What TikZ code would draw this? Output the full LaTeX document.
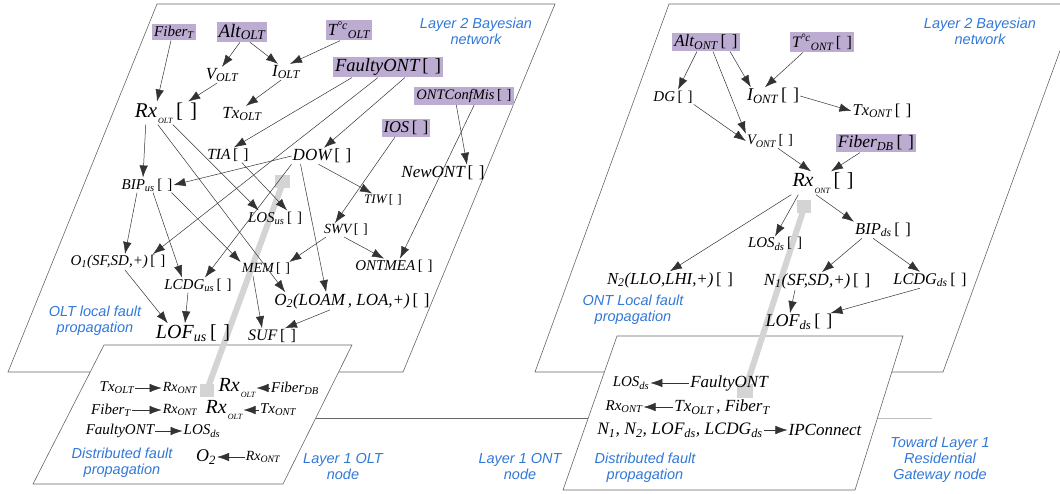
\documentclass[tikz,border=0pt]{standalone}
\usepackage{fontspec}
\setmainfont{Liberation Serif}
\setsansfont{Liberation Sans}
\usetikzlibrary{arrows.meta}
\definecolor{boxc}{RGB}{188,172,210}
\definecolor{bluec}{RGB}{50,120,215}
\definecolor{shaftc}{RGB}{212,212,212}
\newcommand\sub[1]{\textsubscript{#1}}
\newcommand\br{\,{\upshape[\,\,]}}
\newcommand\lowsub[3]{\kern#1\raisebox{-#2}{\fontsize{8}{8}\selectfont #3}}
\tikzset{
  lab/.style={inner sep=1pt},
  fsz/.style={font=\itshape\fontsize{#1}{#1}\selectfont},
  box/.style={lab, fill=boxc, inner sep=2pt},
  bl/.style={font=\sffamily\itshape\fontsize{14.5}{16}\selectfont, text=bluec, align=center},
  edge/.style={draw=black!80, line width=0.5pt, -{Latex[length=12pt,width=8.5pt]}},
  frame/.style={draw=black!60, line width=0.6pt},
  shaft/.style={draw=shaftc, line width=6pt},
}
\begin{document}
\begin{tikzpicture}[x=1pt,y=-1pt]
\useasboundingbox (0,0) rectangle (1060,493);
% frames
\draw[frame] (8,372) -- (403,372) -- (555,4) -- (157,4) -- cycle;
\draw[frame] (535,372) -- (943,372) -- (1077,4) -- (669,4) -- cycle;
\draw[frame] (315,418) -- (588,418);
\draw[draw=black!25, line width=0.6pt] (873,418) -- (932,418);
\filldraw[frame, fill=white] (33,484) -- (283,484) -- (352,345) -- (104,345) -- cycle;
\filldraw[frame, fill=white] (563,490) -- (855,490) -- (903,336) -- (617,336) -- cycle;
% gray shafts
\draw[shaft] (207,390) -- (282,185);
\fill[shaftc] (200,384) rectangle (214,397);
\fill[shaftc] (275,175) rectangle (290,188);
\draw[shaft] (745,390) -- (804,208);
\fill[shaftc] (737,384) rectangle (753,398);
\fill[shaftc] (797,200) rectangle (811,213);

% ---------- OLT layer 2 ----------
\node[box,fsz=15] (fibT) at (174,32) {Fiber\sub{T}};
\node[box,fsz=19] (altO) at (242,32) {Alt\sub{OLT}};
\node[box,fsz=17] (tcO) at (349,30) {T\textsuperscript{°c}\sub{OLT}};
\node[lab,fsz=17] (vO) at (222,75) {V\sub{OLT}};
\node[lab,fsz=17] (iO) at (286,72) {I\sub{OLT}};
\node[box,fsz=18.5] (fONT) at (388,67) {FaultyONT\br};
\node[lab,fsz=21] (rxO) at (166,113) {Rx\lowsub{1pt}{6pt}{OLT}\br};
\node[lab,fsz=17] (txO) at (242,114) {Tx\sub{OLT}};
\node[box,fsz=14.5] (ocm) at (464,96) {ONTConfMis\br};
\node[box,fsz=16.5] (ios) at (406,128) {IOS\br};
\node[lab,fsz=15.5] (tia) at (228,155) {TIA\br};
\node[lab,fsz=17] (dow) at (322,156) {DOW\br};
\node[lab,fsz=17] (newo) at (443,173) {NewONT\br};
\node[lab,fsz=15] (bipu) at (147,185) {BIP\sub{us}\br};
\node[lab,fsz=13] (tiw) at (383,200) {TIW\br};
\node[lab,fsz=15] (losu) at (275,218) {LOS\sub{us}\br};
\node[lab,fsz=14] (swv) at (346,230) {SWV\br};
\node[lab,fsz=15] (o1) at (118,262) {O\sub{1}(SF,SD,+)\br};
\node[lab,fsz=14] (mem) at (266,269) {MEM\br};
\node[lab,fsz=15] (ontmea) at (394,266) {ONTMEA\br};
\node[lab,fsz=15] (lcdgu) at (198,285) {LCDG\sub{us}\br};
\node[lab,fsz=17] (o2) at (352,301) {O\sub{2}(LOAM\,, LOA,+)\br};
\node[lab,fsz=20] (lofu) at (193,333) {LOF\sub{us}\br};
\node[lab,fsz=16] (suf) at (272,336) {SUF\br};

\draw[edge] ([xshift=-3pt]fibT.south) -- ([xshift=-9pt]rxO.north);
\draw[edge] ([xshift=-2pt]altO.south) -- (vO.north);
\draw[edge] ([xshift=8pt]altO.south) -- ([xshift=-8pt]iO.north);
\draw[edge] ([xshift=-9pt]tcO.south) -- ([xshift=4pt]iO.north);
\draw[edge] ([xshift=-5pt]vO.south) -- ([xshift=-10pt]rxO.north east);
\draw[edge] ([xshift=-5pt]iO.south) -- ([xshift=4pt]txO.north);
\draw[edge] ([xshift=19pt]fONT.south west) -- ([xshift=6pt]tia.north);
\draw[edge] ([xshift=45pt]fONT.south west) -- ([xshift=35pt]o1.north);
\draw[edge] ([xshift=72pt]fONT.south west) -- ([xshift=2pt]dow.north);
\draw[edge] ([xshift=42pt]ocm.south west) -- ([xshift=24pt]newo.north);
\draw[edge] ([xshift=60pt]ocm.south west) -- ([xshift=6pt]ontmea.north);
\draw[edge] ([xshift=-11pt]ios.south) -- ([xshift=-11pt]swv.north);
\draw[edge] ([xshift=12pt]rxO.south west) -- ([xshift=-4pt]bipu.north);
\draw[edge] ([xshift=39pt]rxO.south west) -- ([xshift=12pt]losu.north west);
\draw[edge] ([xshift=24pt]rxO.south west) -- ([xshift=12pt]o2.north west);
\draw[edge] ([xshift=-8pt]tia.south east) -- ([xshift=-16pt]losu.north east);
\draw[edge] (dow.west) -- (bipu.east);
\draw[edge] (dow.south west) -- ([xshift=7pt]lcdgu.north);
\draw[edge] ([xshift=9pt]dow.south west) -- ([xshift=53pt]o2.north west);
\draw[edge] ([xshift=27pt]dow.south west) -- ([xshift=9pt]tiw.north west);
\draw[edge] ([xshift=-10pt]bipu.south) -- ([xshift=7pt]o1.north);
\draw[edge] ([xshift=6pt]bipu.south) -- ([xshift=-16pt]lcdgu.north);
\draw[edge] ([xshift=-2pt]bipu.south east) -- (mem.north west);
\draw[edge] ([xshift=3pt]swv.south west) -- ([xshift=-2pt]mem.north east);
\draw[edge] ([xshift=-2pt]swv.south) -- ([xshift=30pt]ontmea.north west);
\draw[edge] ([xshift=-13pt]mem.south) -- ([xshift=-10pt]suf.north);
\draw[edge] ([xshift=-22pt]o2.south) -- ([xshift=13pt]suf.north);
\draw[edge] ([xshift=7pt]o1.south) -- ([xshift=13pt]lofu.north west);
\draw[edge] ([xshift=-10pt]lcdgu.south) -- ([xshift=-8pt]lofu.north);

% ---------- ONT layer 2 ----------
\node[box,fsz=17] (altN) at (706,42) {Alt\sub{ONT}\br};
\node[box,fsz=16] (tcN) at (822,42) {T\textsuperscript{°c}\sub{ONT}\br};
\node[lab,fsz=15] (dg) at (673,97) {DG\br};
\node[lab,fsz=18] (iN) at (773,96) {I\sub{ONT}\br};
\node[lab,fsz=16.5] (txN) at (882,111) {Tx\sub{ONT}\br};
\node[lab,fsz=14.5] (vN) at (770,141) {V\sub{ONT}\br};
\node[box,fsz=17.5] (fibDB) at (876,143) {Fiber\sub{DB}\br};
\node[lab,fsz=20] (rxN) at (823,183) {Rx\lowsub{1pt}{7pt}{ONT}\br};
\node[lab,fsz=15] (losd) at (775,244) {LOS\sub{ds}\br};
\node[lab,fsz=16.5] (bipd) at (883,230) {BIP\sub{ds}\br};
\node[lab,fsz=16.8] (n2) at (670,280) {N\sub{2}(LLO,LHI,+)\br};
\node[lab,fsz=17] (n1) at (817,281) {N\sub{1}(SF,SD,+)\br};
\node[lab,fsz=16.3] (lcdgd) at (930,280) {LCDG\sub{ds}\br};
\node[lab,fsz=18] (lofd) at (799,322) {LOF\sub{ds}\br};

\draw[edge] ([xshift=-9pt]altN.south) -- ([xshift=5pt]dg.north);
\draw[edge] ([xshift=7pt]altN.south) -- (vN.north west);
\draw[edge] ([xshift=24pt]altN.south) -- ([xshift=5pt]iN.north west);
\draw[edge] ([xshift=-19pt]tcN.south) -- ([xshift=-8pt]iN.north);
\draw[edge] (iN.east) -- (txN.west);
\draw[edge] (dg.south east) -- (vN.west);
\draw[edge] ([xshift=8pt]vN.south) -- ([xshift=-12pt]rxN.north);
\draw[edge] ([xshift=-16pt]fibDB.south) -- ([xshift=8pt]rxN.north);
\draw[edge] (rxN.south west) -- (n2.north);
\draw[edge] ([xshift=7pt]rxN.south west) -- (losd.north);
\draw[edge] ([xshift=-7pt]rxN.south) -- (bipd.north west);
\draw[edge] ([xshift=-21pt]bipd.south) -- ([xshift=5pt]n1.north);
\draw[edge] ([xshift=-10pt]bipd.south) -- ([xshift=-10pt]lcdgd.north);
\draw[edge] ([xshift=-22pt]n1.south) -- ([xshift=-9pt]lofd.north);
\draw[edge] ([xshift=-10pt]lcdgd.south) -- ([xshift=-3pt]lofd.north east);

% ---------- Layer 1 OLT ----------
\node[lab,fsz=15] (a1) at (117,388) {Tx\sub{OLT}};
\node[lab,fsz=14] (a2) at (180,388) {Rx\sub{ONT}};
\node[lab,fsz=20] (a3) at (237,388) {Rx\lowsub{1pt}{6pt}{OLT}};
\node[lab,fsz=15] (a4) at (295,388) {Fiber\sub{DB}};
\node[lab,fsz=15] (b1) at (111,410) {Fiber\sub{T}};
\node[lab,fsz=14] (b2) at (180,410) {Rx\sub{ONT}};
\node[lab,fsz=20] (b3) at (224,410) {Rx\lowsub{1pt}{6pt}{OLT}};
\node[lab,fsz=15] (b4) at (278,410) {Tx\sub{ONT}};
\node[lab,fsz=15] (c1) at (120,431) {FaultyONT};
\node[lab,fsz=15] (c2) at (202,431) {LOS\sub{ds}};
\node[lab,fsz=18] (d1) at (206,457) {O\sub{2}};
\node[lab,fsz=14] (d2) at (263,457) {Rx\sub{ONT}};
\draw[edge] (a1) -- (a2);
\draw[edge] (a4) -- (a3);
\draw[edge] (b1) -- (b2);
\draw[edge] (b4) -- (b3);
\draw[edge] (c1) -- (c2);
\draw[edge] (d2) -- (d1);

% ---------- Layer 1 ONT ----------
\node[lab,fsz=15] (e1) at (631,383) {LOS\sub{ds}};
\node[lab,fsz=17] (e2) at (729,383) {FaultyONT};
\node[lab,fsz=15] (f1) at (624,407) {Rx\sub{ONT}};
\node[lab,fsz=17] (f2) at (722,407) {Tx\sub{OLT}\,, Fiber\sub{T}};
\node[lab,fsz=17.5] (g1) at (680,430) {N\sub{1}, N\sub{2}, LOF\sub{ds}, LCDG\sub{ds}};
\node[lab,fsz=17] (g2) at (825,430) {IPConnect};
\draw[edge] (e2) -- (e1);
\draw[edge] (f2) -- (f1);
\draw[edge] (g1) -- (g2);

% ---------- blue labels ----------
\node[bl] (bl1) at (476,31) {Layer 2 Bayesian\\network};
\node[bl] (bl2) at (95,321) {OLT local fault\\propagation};
\node[bl] (bl3) at (980,31) {Layer 2 Bayesian\\network};
\node[bl] (bl4) at (633,310) {ONT Local fault\\propagation};
\node[bl] (bl5) at (122,463) {Distributed fault\\propagation};
\node[bl] (bl6) at (343,467) {Layer 1 OLT\\node};
\node[bl] (bl7) at (520,467) {Layer 1 ONT\\node};
\node[bl] (bl8) at (645,468) {Distributed fault\\propagation};
\node[bl] (bl9) at (940,460) {Toward Layer 1\\Residential\\Gateway node};
\end{tikzpicture}
\end{document}
